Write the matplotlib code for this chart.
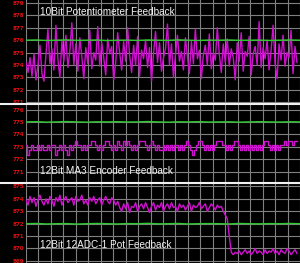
import numpy as np
import matplotlib
matplotlib.use("Agg")
import matplotlib.pyplot as plt
from matplotlib.lines import Line2D
from matplotlib.ticker import MultipleLocator

# --- data ---------------------------------------------------------------
titres = ["10Bit Potentiometer Feedback",
          "12Bit MA3 Encoder Feedback",
          "12Bit 12ADC-1 Pot Feedback"]

ticks_pot10 = [879, 878, 877, 876, 875, 874, 873, 872, 871]
ticks_ma3 = [776, 775, 774, 773, 772, 771]
ticks_adc = [875, 874, 873, 872, 871, 870, 869]

consigne_pot10 = [876.0, 876.02, 875.98, 876.0, 876.03, 875.99, 876.0, 876.02, 875.97, 876.0,
                  876.01, 875.98, 876.02, 876.0, 875.99, 876.03, 876.0, 875.98, 876.01, 876.0,
                  876.02, 875.99, 876.0, 876.01, 875.98, 876.0, 876.02, 876.0]
mesure_pot10 = [874.2, 873.4, 874.6, 873.1, 874.9, 872.8, 874.0, 875.6, 873.3, 872.7,
                874.8, 876.9, 874.1, 875.3, 873.6, 877.2, 874.5, 873.0, 875.9, 874.3,
                876.4, 873.8, 875.1, 877.4, 874.0, 875.7, 873.5, 876.2, 874.7, 872.9,
                875.4, 874.1, 876.8, 873.7, 875.0, 874.4, 877.1, 873.9, 875.8, 874.6,
                873.2, 876.1, 874.9, 875.5, 872.8, 874.2, 876.6, 875.0, 873.6, 875.9,
                874.3, 877.0, 874.8, 873.4, 875.6, 874.0, 876.3, 873.1, 875.2, 874.5,
                876.0, 873.8, 875.4, 872.7, 874.9, 876.7, 874.2, 875.8, 873.5, 874.6,
                875.3, 877.3, 874.0, 875.7, 873.0, 874.8, 876.4, 874.3, 875.1, 873.6,
                876.2, 874.7, 873.3, 875.9, 874.1, 876.9, 874.5, 875.2, 872.9, 874.8,
                875.6, 874.0, 876.5, 873.7, 875.0, 874.4, 877.0, 874.9, 873.4, 875.7,
                874.2, 876.1, 873.9, 875.3, 874.6, 872.8, 875.8, 874.3, 876.6, 873.5,
                875.1, 874.7, 876.3, 873.2, 874.9, 875.5, 874.0, 877.5, 873.8, 875.4,
                874.5, 876.0, 873.6, 875.2, 877.2, 874.1, 872.9, 875.7, 874.4, 876.4,
                873.9, 875.0, 874.6, 876.8, 873.3, 875.5, 874.2]

consigne_ma3 = [775.0, 775.02, 774.98, 775.0, 775.03, 775.0, 774.98, 775.01, 775.0, 775.02,
                774.99, 775.0, 775.03, 775.0, 774.98, 775.01, 775.0, 775.02, 774.99, 775.0,
                775.01, 774.98, 775.0, 775.02, 775.0, 774.99, 775.01, 775.0]
mesure_ma3 = [773.1, 772.3, 772.7, 773.1, 772.7, 772.7, 773.1, 772.7, 773.1, 772.7,
              772.7, 773.1, 772.7, 773.1, 773.1, 772.3, 772.7, 773.1, 772.7, 773.1,
              772.7, 772.3, 773.1, 772.7, 773.1, 773.5, 773.1, 773.1, 772.7, 773.1,
              772.7, 773.1, 773.1, 773.5, 773.5, 773.1, 772.7, 773.1, 772.7, 773.1,
              773.5, 773.5, 773.1, 772.7, 773.1, 772.7, 773.5, 773.1, 772.7, 773.5,
              773.1, 773.5, 773.1, 772.7, 773.1, 772.7, 773.1, 773.5, 773.5, 773.5,
              773.1, 772.7, 773.1, 773.5, 773.1, 772.7, 773.1, 772.7, 772.7, 773.1,
              772.7, 773.1, 772.7, 773.1, 772.7, 773.1, 773.1, 772.7, 773.1, 772.7,
              773.1, 773.5, 773.1, 772.7, 772.3, 772.7, 773.1, 773.5, 773.5, 773.1,
              772.7, 773.1, 772.7, 773.1, 772.7, 773.1, 773.5, 773.5, 773.5, 773.1,
              773.1, 772.7, 773.1, 772.7, 773.1, 773.5, 773.5, 773.1, 772.7, 773.1,
              772.7, 773.1, 772.7, 773.1, 772.7, 773.1, 772.7, 773.1, 772.7, 773.1,
              773.5, 773.5, 773.1, 772.7, 773.1, 772.7, 773.1, 772.7, 773.1, 773.1,
              773.5, 773.1, 773.5, 773.5, 773.1, 773.5, 773.5]

consigne_adc = [872.0, 872.02, 871.98, 872.0, 872.01, 871.97, 872.0, 872.02, 872.0, 871.98,
                872.01, 872.0, 872.03, 871.99, 872.0, 872.02, 871.98, 872.0, 872.01, 872.0,
                871.98, 872.02, 872.0, 871.99, 872.01, 872.0, 872.02, 872.0]
mesure_adc = [873.9, 873.5, 874.2, 873.7, 874.1, 873.4, 873.9, 874.3, 873.8, 873.5,
              874.0, 873.6, 874.2, 873.9, 873.4, 874.1, 873.8, 874.3, 873.5, 873.9,
              874.2, 873.7, 873.9, 874.1, 873.5, 874.2, 873.8, 873.9, 874.3, 873.6,
              873.9, 873.5, 874.1, 873.8, 874.2, 873.6, 873.9, 874.1, 873.5, 873.9,
              874.2, 873.8, 873.6, 874.1, 873.9, 873.5, 873.8,
              873.3, 873.0, 873.6, 873.2, 873.7, 872.9, 873.4, 873.3, 873.7, 873.0,
              873.4, 873.6, 873.2, 873.7, 873.3, 872.9, 873.4, 873.7, 873.1, 873.5,
              873.3, 873.7, 873.0, 873.4, 873.6, 873.2, 873.7, 873.3, 873.4, 873.0,
              873.6, 873.3, 873.5, 873.1, 873.4, 873.7, 873.0, 873.5, 873.3, 873.4,
              873.7, 873.2, 873.4, 873.6, 873.0, 873.3, 873.6, 873.4, 873.1, 873.5,
              873.3, 873.4,
              873.0, 872.7, 872.4, 871.0,
              869.7, 869.5, 869.7, 869.6, 869.8, 869.5, 869.7, 869.9, 869.6, 869.8,
              869.5, 869.7, 870.0, 869.6, 869.8, 869.7, 869.5, 869.9, 869.6, 869.8,
              869.7, 870.0, 869.6, 869.8, 869.5, 869.9, 869.7, 869.6, 870.0, 869.8,
              869.5, 869.7, 869.9, 869.6]

# --- figure --------------------------------------------------------------
W, H = 300, 263
fig = plt.figure(figsize=(W / 100, H / 100), dpi=100, facecolor="black")

# (haut en px, bas en px, premier tick en px) pour chaque bandeau
bandes = [(0, 104, 3.0), (104, 183, 109.5), (183, 263, 186.5)]
pas_px = 12.4
x_max = 137.5

panneaux = [
    (ticks_pot10, consigne_pot10, mesure_pot10, "default", 0.885),
    (ticks_ma3, consigne_ma3, mesure_ma3, "steps-mid", 0.152),
    (ticks_adc, consigne_adc, mesure_adc, "default", 0.225),
]

for (haut, bas, p0), (ticks, cons, mes, style, ytxt), titre in zip(bandes, panneaux, titres):
    ax = fig.add_axes([26 / W, (H - bas) / H, 274 / W, (bas - haut) / H])
    ax.set_facecolor("black")

    # echelle : 1 unite = pas_px pixels, valeurs decroissantes vers le bas
    v0 = ticks[0]
    haut_val = v0 + (p0 - haut) / pas_px
    bas_val = v0 - (bas - p0) / pas_px
    ax.set_ylim(bas_val, haut_val)
    ax.set_xlim(0, x_max)

    ax.set_yticks(ticks)
    ax.set_yticklabels([str(t) for t in ticks])
    ax.xaxis.set_major_locator(MultipleLocator(x_max / 22))
    ax.tick_params(axis="y", length=0, pad=1.5, labelsize=4.0, labelcolor="#e01010")
    for lab in ax.get_yticklabels():
        lab.set_fontweight("bold")
    ax.tick_params(axis="x", length=0, labelbottom=False)
    ax.grid(True, color="#808080", lw=0.8)
    ax.set_axisbelow(True)
    for s in ax.spines.values():
        s.set_visible(False)

    ax.plot(np.arange(len(mes)), mes, color="#d010d0", lw=1.0, drawstyle=style, zorder=3)
    ax.plot(np.linspace(0, x_max, len(cons)), cons, color="#30c830", lw=1.0, zorder=4)

    ax.text(14 / 274, ytxt, titre, transform=ax.transAxes, color="#f4f4f4",
            fontsize=7.2, family=["Liberation Sans", "DejaVu Sans"],
            va="center", ha="left", zorder=5)

# separateurs blancs entre les bandeaux
for y in [104, 183]:
    fig.add_artist(Line2D([0, 1], [(H - y) / H] * 2, transform=fig.transFigure,
                          color="#f0f0f0", lw=1.5))

fig.savefig("out.png", dpi=100, facecolor="black")
